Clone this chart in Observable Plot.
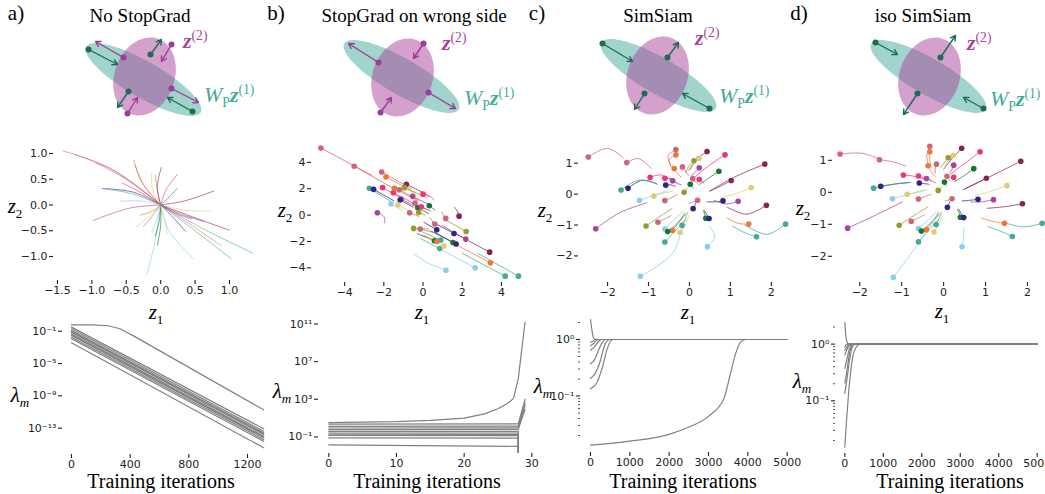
<!DOCTYPE html>
<html><head><meta charset="utf-8">
<script src="https://cdn.jsdelivr.net/npm/d3@7"></script>
<script src="https://cdn.jsdelivr.net/npm/@observablehq/plot@0.6"></script>
<style>
body{margin:0;background:#fff;}
#root{position:relative;width:1045px;height:494px;overflow:hidden;background:#fff;}
.t{position:absolute;white-space:nowrap;font-family:"Liberation Serif",serif;color:#000;line-height:1;}
.t sup,.t sub{font-size:0.62em;line-height:0;}
</style></head>
<body><div id="root"></div>
<script>
// ---------- palette ----------
const palette = {rose:"#CC6677", indigo:"#332288", sand:"#DDCC77", green:"#117733", cyan:"#88CCEE",
  wine:"#882255", teal:"#44AA99", olive:"#999933", purple:"#AA4499", orange:"#EE7733", pink:"#EE3377"};

// ---------- panel titles ----------
const panelLetters = ["a)","b)","c)","d)"];
const panelTitles = ["No StopGrad","StopGrad on wrong side","SimSiam","iso SimSiam"];

// ---------- schematic diagrams (diagram units = px in top strip) ----------
// [cx, cy, rx, ry, angleDeg]
const tealEllipses = [[143,79,66,18,30],[401,76,66,18,30],[658,75,66,18,30],[928,76,66,18,30]];
const magEllipses  = [[144,76,40,30,-70],[402,77,40,30,-70],[657,75,40,30,-70],[929,76,40,30,-70]];
// arrows: [x1,y1,x2,y2,kind]
const diagArrows = [
  [88,49,117,64,"g"],[192,111,167,97,"g"],[123,57,95,41,"m"],[171,88,198,102,"m"],
  [150,54,161,39,"g"],[171,44,161,61,"m"],[128,91,117,107,"g"],[127,113,137,97,"m"],
  [378,62,348,43,"m"],[423,43,413,58,"m"],[428,92,455,108,"m"],[380,112,391,97,"m"],
  [602,43,632,61,"g"],[667,57,678,42,"g"],[644,93,634,109,"g"],[709,108,682,93,"g"],
  [875,42,897,54,"g"],[940,57,955,35,"g"],[917,93,903,114,"g"],[983,108,963,97,"g"]
];
const arrowColors = {g:"#1d6c56", m:"#9c3b99"};

// ---------- panel a middle: trajectories [color, x0,y0, xmid,ymid] -> origin ----------
const aOrigin = [0,0];
const aTraj = [
 ["rose",-1.42,1.05,-0.75,0.72],["rose",-1.25,0.98,-0.66,0.66],["rose",-0.95,0.82,-0.5,0.5],
 ["pink",-0.56,0.43,-0.3,0.25],["purple",-0.98,-0.30,-0.45,-0.06],["indigo",-0.85,0.32,-0.4,0.25],
 ["teal",-0.80,0.31,-0.42,0.22],["cyan",-0.59,0.07,-0.3,0.08],["sand",-0.37,-0.44,-0.15,-0.2],
 ["rose",-0.25,-0.42,-0.1,-0.18],["orange",-0.37,0.77,-0.25,0.4],["rose",-0.39,0.87,-0.28,0.45],
 ["sand",-0.13,0.61,-0.12,0.3],["olive",-0.08,0.58,-0.05,0.3],["wine",0.01,0.73,-0.05,0.35],
 ["pink",0.24,0.59,0.08,0.3],["green",0.24,0.32,0.12,0.15],["wine",0.77,0.27,0.35,0.08],
 ["sand",0.73,-0.12,0.35,-0.1],["purple",0.63,-0.32,0.3,-0.18],["wine",1.0,-0.49,0.5,-0.25],
 ["indigo",0.36,-0.51,0.18,-0.24],["orange",0.88,-0.79,0.4,-0.35],["teal",1.33,-0.93,0.6,-0.45],
 ["teal",1.03,-1.05,0.45,-0.45],["cyan",0.48,-1.05,0.12,-0.5],["cyan",-0.2,-1.35,-0.08,-0.7],
 ["green",-0.05,-0.79,0.0,-0.4],["green",-0.08,-0.61,-0.02,-0.3],["cyan",-0.13,-0.53,-0.05,-0.25],
 ["sand",0.1,-0.56,0.05,-0.28],["olive",-0.3,-0.2,-0.12,-0.12],["purple",0.45,-0.27,0.2,-0.15]
];

// ---------- panel b middle: dots [color,x,y] and line ends [xe,ye] (or [xm,ym,xe,ye]) ----------
const bDots = [
 ["rose",-5.21,5.09],["rose",-3.51,3.70],["rose",-2.11,3.27],["orange",-1.89,2.89],["wine",-0.85,2.33],
 ["sand",-0.94,2.05],["pink",-2.06,2.08],["teal",-2.74,2.03],["indigo",-2.52,1.95],["pink",-1.51,1.70],
 ["orange",-1.46,2.03],["rose",-1.21,1.92],["pink",0.0,1.59],["purple",-0.53,1.42],["purple",-1.12,1.22],
 ["indigo",-1.17,1.14],["cyan",-1.63,0.86],["sand",-1.28,0.78],["rose",-0.41,0.91],["green",-0.27,0.56],
 ["pink",-0.09,0.63],["green",0.32,0.71],["olive",-0.22,0.20],["rose",-0.68,0.18],["purple",-2.33,0.18],
 ["wine",1.84,-0.08],["rose",0.60,-0.68],["rose",1.16,-0.25],["olive",-0.48,-1.01],["rose",-0.14,-1.06],
 ["indigo",0.70,-1.11],["indigo",1.58,-1.39],["olive",2.20,-1.24],["purple",2.18,-1.82],["teal",0.90,-1.90],
 ["green",0.58,-1.95],["orange",0.70,-2.00],["green",1.53,-2.08],["indigo",1.69,-2.20],["teal",0.85,-2.53],
 ["sand",1.07,-2.35],["wine",3.40,-2.81],["orange",3.44,-3.62],["cyan",1.17,-4.18],["cyan",2.66,-4.00],
 ["teal",4.19,-4.63],["teal",4.87,-4.63],["olive",-0.95,2.1]
];
const bPaths = [
 [-2.6,3.0],[-1.6,2.1],[-0.6,2.0],[-0.4,1.7],[0.0,1.7,0.3,1.4],
 [0.0,1.2],[-1.0,1.2],[-1.6,1.0],[-1.5,1.1],[-0.5,0.9],
 [-0.3,1.1],[-0.2,1.1],[0.4,1.4,0.55,1.15],[0.3,0.8],[-0.3,0.6],
 [-0.5,0.6],[-1.1,0.4],[-0.6,0.2],[0.2,0.4],[0.3,0.1],
 [0.4,0.3],[0.6,0.4],[0.1,0.0],[-0.2,-0.1],[-2.0,-0.1,-1.95,-0.6],
 [1.75,0.3,1.6,0.6],[0.35,-0.2],[0.95,0.25],[0.3,-1.05],[0.5,-1.3],
 [0.05,-0.55],[0.5,-0.55],[1.2,-0.4],[1.0,-0.8],[0.0,-1.3],
 [-0.3,-1.4],[0.0,-1.5],[0.4,-1.2],[0.6,-1.3],[-0.1,-1.8],
 [0.2,-1.7],[1.5,-1.3],[1.5,-2.1],[0.2,-3.6,-0.5,-2.9],[0.9,-2.6],
 [2.0,-2.9],[2.8,-2.9],[0.2,1.3]
];

// ---------- panels c & d middle: shared dots, separate paths [xm,ym,xe,ye] ----------
const cdDots = [
 ["rose",-2.47,1.20],["rose",-1.53,1.02],["rose",-0.33,1.44],["orange",-0.33,1.27],["wine",0.43,1.38],
 ["sand",0.23,1.16],["olive",0.11,1.08],["pink",0.87,1.27],["wine",1.84,0.97],["green",0.72,0.74],
 ["rose",-0.17,0.88],["orange",-0.37,0.83],["purple",0.24,0.85],["rose",0.08,0.50],["pink",0.24,0.47],
 ["green",0.02,0.32],["wine",1.02,0.44],["pink",-0.96,0.54],["pink",-0.60,0.51],["purple",-0.41,0.43],
 ["indigo",-0.58,0.29],["indigo",-1.50,0.19],["teal",-1.67,0.13],["cyan",-1.22,-0.20],["sand",-0.87,-0.06],
 ["olive",-0.13,0.06],["rose",-0.60,-0.21],["rose",0.20,-0.20],["sand",1.51,0.21],["indigo",0.82,-0.22],
 ["purple",1.19,-0.23],["wine",1.88,-0.36],["indigo",0.09,-0.47],["purple",-2.29,-1.12],["olive",-1.06,-1.03],
 ["rose",-0.77,-0.91],["cyan",-0.60,-1.13],["orange",-0.41,-1.17],["green",-0.53,-1.21],["teal",-0.18,-1.01],
 ["sand",-0.23,-1.24],["teal",-0.60,-1.55],["green",0.40,-0.78],["indigo",0.48,-0.79],["orange",1.45,-0.97],
 ["teal",1.64,-1.38],["teal",2.35,-0.97],["cyan",0.44,-1.70],["cyan",-1.20,-2.66]
];
const cPaths = [
 [-2.0,1.48,-1.62,1.18],[-1.25,1.15,-0.93,0.83],[-0.52,1.25,-0.45,0.92],[-0.5,1.1,-0.4,0.78],[0.2,1.15,0.0,0.78],
 [0.05,0.95,-0.08,0.68],[-0.02,0.9,-0.1,0.7],[0.45,0.9,0.05,0.45],[1.1,0.55,0.5,0.1],[0.45,0.5,0.23,0.3],
 [-0.1,0.75,-0.02,0.6],[-0.3,0.68,-0.2,0.55],[0.15,0.72,0.05,0.6],[0.12,0.42,0.2,0.35],[0.3,0.42,0.35,0.35],
 [0.05,0.25,0.1,0.2],[0.75,0.25,0.5,0.1],[-0.7,0.62,-0.4,0.4],[-0.45,0.5,-0.3,0.35],[-0.3,0.35,-0.2,0.3],
 [-0.45,0.3,-0.35,0.25],[-1.15,0.45,-0.78,0.32],[-1.25,0.45,-0.85,0.36],[-0.9,-0.05,-0.55,0.1],[-0.65,0.02,-0.4,0.1],
 [-0.1,0.12,-0.05,0.2],[-0.45,-0.12,-0.3,-0.02],[0.1,-0.25,0.0,-0.3],[1.1,0.0,0.76,-0.12],[0.62,-0.25,0.43,-0.25],
 [0.9,-0.32,0.6,-0.2],[1.4,-0.65,0.92,-0.42],[0.13,-0.38,0.15,-0.28],[-1.7,-0.6,-1.04,-0.28],[-0.75,-0.75,-0.42,-0.46],
 [-0.6,-0.8,-0.45,-0.7],[-0.4,-0.85,-0.15,-0.55],[-0.25,-0.9,-0.12,-0.6],[-0.3,-0.95,-0.1,-0.65],[-0.1,-0.8,-0.05,-0.6],
 [-0.1,-1.0,-0.02,-0.7],[-0.35,-1.2,-0.1,-0.85],[0.37,-0.65,0.35,-0.55],[0.42,-0.65,0.35,-0.52],[1.2,-0.95,0.92,-0.78],
 [1.35,-1.25,1.05,-1.03],[1.9,-1.3,1.35,-1.0],[0.62,-1.4,0.5,-1.05],[-0.4,-1.9,-0.18,-1.0]
];
const dPaths = [
 [-1.95,1.22,-1.55,1.05],[-1.2,0.95,-0.9,0.82],[-0.4,1.15,-0.38,0.92],[-0.33,1.0,-0.3,0.78],[0.2,1.05,0.0,0.72],
 [0.1,0.95,0.0,0.72],[0.0,0.9,-0.08,0.75],[0.5,0.9,0.17,0.57],[1.15,0.52,0.46,0.08],[0.5,0.53,0.26,0.33],
 [-0.2,0.75,-0.2,0.6],[-0.3,0.65,-0.2,0.5],[0.2,0.72,0.15,0.6],[0.12,0.42,0.16,0.35],[0.28,0.4,0.3,0.35],
 [0.04,0.25,0.06,0.2],[0.75,0.26,0.5,0.1],[-0.7,0.5,-0.45,0.4],[-0.45,0.45,-0.3,0.38],[-0.3,0.36,-0.2,0.3],
 [-0.45,0.27,-0.35,0.25],[-1.1,0.27,-0.79,0.31],[-1.2,0.25,-0.85,0.3],[-0.8,-0.05,-0.46,0.08],[-0.6,0.0,-0.4,0.08],
 [-0.08,0.1,-0.04,0.15],[-0.45,-0.14,-0.3,-0.06],[0.12,-0.24,0.04,-0.27],[1.1,0.02,0.75,-0.11],[0.62,-0.25,0.44,-0.27],
 [0.9,-0.3,0.64,-0.3],[1.45,-0.45,1.04,-0.5],[0.12,-0.38,0.15,-0.3],[-1.6,-0.7,-0.98,-0.3],[-0.7,-0.72,-0.37,-0.45],
 [-0.6,-0.8,-0.45,-0.7],[-0.36,-0.85,-0.15,-0.58],[-0.25,-0.9,-0.12,-0.62],[-0.3,-0.95,-0.1,-0.68],[-0.1,-0.8,-0.05,-0.62],
 [-0.12,-1.0,-0.03,-0.75],[-0.35,-1.18,-0.12,-0.85],[0.37,-0.65,0.33,-0.53],[0.42,-0.66,0.36,-0.53],[1.15,-0.9,0.9,-0.81],
 [1.33,-1.2,1.05,-1.07],[1.9,-1.08,1.45,-0.95],[0.48,-1.4,0.48,-1.1],[-0.6,-1.6,-0.12,-0.62]
];

// ---------- bottom panels: eigenvalue curves, points [iteration, log10(lambda)] ----------
const aLam = [
 [[0,-0.21],[150,-0.23],[250,-0.33],[330,-0.7],[420,-1.55],[1310,-10.73]],
 [[0,-0.50],[1310,-13.08]],[[0,-0.70],[1310,-13.38]],[[0,-0.91],[1310,-13.57]],
 [[0,-1.02],[1310,-13.68]],[[0,-1.12],[1310,-13.78]],[[0,-1.32],[1310,-13.99]],
 [[0,-1.43],[1310,-14.09]],[[0,-1.53],[1310,-14.19]],[[0,-1.74],[1310,-14.40]],
 [[0,-1.94],[1310,-14.61]],[[0,-2.44],[1310,-15.43]]
];
const bLam = [
 [[0,0.52],[10,0.62],[15,0.75],[20,1.0],[23,1.45],[25,2.0],[26.5,2.6],[27.3,3.1],[28,5.2],[29,11.2]],
 [[0,0.35],[28,0.38],[29,3.0]],[[0,0.13],[28,0.15],[29,2.6]],[[0,-0.05],[28,-0.03],[29,2.3]],
 [[0,-0.22],[28,-0.2],[29,1.9]],[[0,-0.40],[28,-0.4],[28,-8]],[[0,-0.58],[28,-0.58],[28,-8]],
 [[0,-0.71],[28,-0.72],[28,-8]],[[0,-0.85],[28,-0.86],[28,-8]],[[0,-1.10],[28,-1.12],[28,-8]],
 [[0,-1.85],[28,-2.0],[28,-8]]
];
const cLam = [
 [[0,0.35],[30,0.2],[60,0.07],[100,0.01],[200,0],[5000,0]],
 [[0,-0.05],[60,-0.03],[120,0],[5000,0]],
 [[0,-0.11],[80,-0.07],[160,-0.01],[220,0],[5000,0]],
 [[0,-0.19],[100,-0.13],[200,-0.04],[280,0],[5000,0]],
 [[0,-0.43],[100,-0.36],[200,-0.2],[300,-0.05],[380,0],[5000,0]],
 [[0,-0.69],[120,-0.6],[250,-0.38],[350,-0.12],[450,-0.01],[500,0],[5000,0]],
 [[0,-0.87],[150,-0.78],[300,-0.5],[420,-0.18],[520,-0.02],[600,0],[5000,0]],
 [[0,-1.87],[1000,-1.80],[2000,-1.68],[2500,-1.55],[3000,-1.36],[3390,-1.05],[3560,-0.6],[3690,-0.25],[3810,-0.05],[3940,0],[5000,0]]
];
const dLam = [
 [[0,0.38],[20,0.2],[50,0.05],[100,0.0],[5000,0]],
 [[0,-0.05],[50,0],[5000,0]],
 [[0,-0.11],[60,-0.04],[100,0],[5000,0]],
 [[0,-0.19],[60,-0.09],[120,-0.01],[150,0],[5000,0]],
 [[0,-0.43],[60,-0.25],[120,-0.08],[180,0],[5000,0]],
 [[0,-0.69],[60,-0.45],[120,-0.17],[180,-0.03],[230,0],[5000,0]],
 [[0,-0.87],[60,-0.6],[130,-0.25],[200,-0.04],[260,0],[5000,0]],
 [[0,-1.82],[50,-1.3],[100,-0.85],[150,-0.5],[200,-0.25],[300,-0.05],[400,0],[5000,0]]
];

// ---------- ticks ----------
const aMidXTicks=[-1.5,-1,-0.5,0,0.5,1], aMidYTicks=[-1,-0.5,0,0.5,1];
const bMidTicks=[-4,-2,0,2,4];
const cdMidXTicks=[-2,-1,0,1,2], cdMidYTicks=[-2,-1,0,1];
const aBotXTicks=[0,400,800,1200], aBotYExp=[-13,-9,-5,-1];
const bBotXTicks=[0,10,20,30], bBotYExp=[-1,3,7,11];
const cdBotXTicks=[0,1000,2000,3000,4000,5000], cdBotYExp=[-1,0];

// ================= rendering =================
const root = document.getElementById("root");
const sup = {"-":"⁻","0":"⁰","1":"¹","2":"²","3":"³","4":"⁴","5":"⁵","6":"⁶","7":"⁷","8":"⁸","9":"⁹"};
const powFmt = d => "10" + String(Math.round(Math.log10(d))).split("").map(c=>sup[c]).join("");
const col = c => palette[c];

function text(html, x, y, size, anchor="middle", extra="") {
  const el = document.createElement("div");
  el.className = "t";
  el.innerHTML = html;
  el.style.left = x + "px"; el.style.top = y + "px"; el.style.fontSize = size + "px";
  el.style.transform = anchor === "middle" ? "translate(-50%,-50%)" : "translate(0,-50%)";
  if (extra) el.style.cssText += extra;
  root.appendChild(el);
}

function panel(o) {
  const mL=48, mR=8, mT=6, mB=24;
  const w=o.fx1-o.fx0, h=o.fy1-o.fy0;
  const axisStyle = {tickSize:4, tickPadding:2, label:null, strokeWidth:1.1};
  const marks = [...o.marks,
    Plot.axisX({...axisStyle, ticks:o.xt, tickFormat:o.xf, line:true}),
    Plot.axisY({...axisStyle, ticks:o.yt, tickFormat:o.yf, line:true})];
  if (o.minor) marks.push(Plot.axisY({ticks:o.minor, tickSize:2, tickFormat:()=>"", label:null, strokeWidth:0.8}));
  const p = Plot.plot({
    width:w+mL+mR, height:h+mT+mB, marginLeft:mL, marginRight:mR, marginTop:mT, marginBottom:mB,
    style:{fontFamily:"DejaVu Sans", fontSize:"11px", color:"#222", background:"transparent", overflow:"visible"},
    x:{domain:o.xd},
    y:o.log ? {type:"log", domain:o.yd.map(e=>10**e)} : {domain:o.yd},
    marks
  });
  p.style.position="absolute"; p.style.left=(o.fx0-mL)+"px"; p.style.top=(o.fy0-mT)+"px";
  root.appendChild(p);
}

// --- top strip diagrams ---
const ellRows = (list, kind) => list.flatMap(([cx,cy,rx,ry,ang],i) => {
  const th = ang*Math.PI/180;
  return d3.range(0,360,4).map(t => { const a=t*Math.PI/180;
    return {id:kind+i, x:cx+rx*Math.cos(a)*Math.cos(th)-ry*Math.sin(a)*Math.sin(th),
                       y:cy+rx*Math.cos(a)*Math.sin(th)+ry*Math.sin(a)*Math.cos(th)}; });
});
const arrRows = diagArrows.map(([x1,y1,x2,y2,k]) => ({x1,y1,x2,y2,c:arrowColors[k]}));
const diag = Plot.plot({
  width:1045, height:130, margin:0,
  x:{domain:[0,1045], range:[0,1045], axis:null}, y:{domain:[0,130], range:[0,130], axis:null},
  style:{background:"transparent"},
  marks:[
    Plot.line(ellRows(tealEllipses,"t"), {x:"x", y:"y", z:"id", fill:"#44AA99", fillOpacity:0.5, stroke:"none"}),
    Plot.line(ellRows(magEllipses,"m"), {x:"x", y:"y", z:"id", fill:"#AA4499", fillOpacity:0.5, stroke:"none"}),
    Plot.arrow(arrRows, {x1:"x1", y1:"y1", x2:"x2", y2:"y2", stroke:"c", strokeWidth:1.4, headLength:6}),
    Plot.dot(arrRows, {x:"x1", y:"y1", r:3, fill:"c", stroke:"none"})
  ]
});
diag.style.position="absolute"; diag.style.left="0px"; diag.style.top="0px";
root.appendChild(diag);

// --- middle panels ---
const aRows = aTraj.flatMap(([c,x0,y0,xm,ym],i)=>[{id:i,c,x:x0,y:y0},{id:i,c,x:xm,y:ym},{id:i,c,x:aOrigin[0],y:aOrigin[1]}]);
panel({fx0:53, fx1:262, fy0:145, fy1:280, xd:[-1.558,1.48], yd:[-1.466,1.155],
  xt:aMidXTicks, yt:aMidYTicks, xf:d3.format(".1f"), yf:d3.format(".1f"),
  marks:[Plot.line(aRows,{x:"x",y:"y",z:"id",stroke:d=>col(d.c),strokeOpacity:0.6,strokeWidth:1,curve:"catmull-rom"})]});

function pathRows(dots, paths) {
  return dots.flatMap(([c,x,y],i) => {
    const p = paths[i], rows = [{id:i,c,x,y}];
    for (let k=0;k<p.length;k+=2) rows.push({id:i,c,x:p[k],y:p[k+1]});
    return rows;
  });
}
const dotMark = dots => Plot.dot(dots,{x:d=>d[1],y:d=>d[2],r:2.8,fill:d=>col(d[0]),stroke:"none"});
panel({fx0:311, fx1:527, fy0:141, fy1:282, xd:[-5.69,5.33], yd:[-5.11,5.58],
  xt:bMidTicks, yt:bMidTicks, xf:d3.format("d"), yf:d3.format("d"),
  marks:[Plot.line(pathRows(bDots,bPaths),{x:"x",y:"y",z:"id",stroke:d=>col(d.c),strokeOpacity:0.75,strokeWidth:1,curve:"catmull-rom"}), dotMark(bDots)]});
panel({fx0:578, fx1:797, fy0:142, fy1:282, xd:[-2.71,2.64], yd:[-2.86,1.67],
  xt:cdMidXTicks, yt:cdMidYTicks, xf:d3.format("d"), yf:d3.format("d"),
  marks:[Plot.line(pathRows(cdDots,cPaths),{x:"x",y:"y",z:"id",stroke:d=>col(d.c),strokeOpacity:0.75,strokeWidth:1,curve:"catmull-rom"}), dotMark(cdDots)]});
panel({fx0:832, fx1:1045, fy0:140, fy1:282, xd:[-2.65,2.43], yd:[-2.82,1.62],
  xt:cdMidXTicks, yt:cdMidYTicks, xf:d3.format("d"), yf:d3.format("d"),
  marks:[Plot.line(pathRows(cdDots,dPaths),{x:"x",y:"y",z:"id",stroke:d=>col(d.c),strokeOpacity:0.75,strokeWidth:1,curve:"catmull-rom"}), dotMark(cdDots)]});

// --- bottom panels ---
const lamRows = list => list.flatMap((pts,i)=>pts.map(([t,e])=>({id:i,t,v:10**e})));
const grayLine = (list, curve) => Plot.line(lamRows(list),{x:"t",y:"v",z:"id",stroke:"#808080",strokeWidth:1.2,curve,clip:true});
const minorTicks = d3.range(-3,1).flatMap(e=>d3.range(2,10).map(m=>m*10**e));
panel({fx0:62, fx1:268, fy0:318, fy1:454, xd:[-61,1343], yd:[-16.26,0.57], log:true,
  xt:aBotXTicks, yt:aBotYExp.map(e=>10**e), xf:d3.format("d"), yf:powFmt,
  marks:[grayLine(aLam,"linear")]});
panel({fx0:318, fx1:532, fy0:315, fy1:453, xd:[-1.52,30.1], yd:[-2.76,11.9], log:true,
  xt:bBotXTicks, yt:bBotYExp.map(e=>10**e), xf:d3.format("d"), yf:powFmt,
  marks:[grayLine(bLam,"linear")]});
panel({fx0:580, fx1:793, fy0:313, fy1:452, xd:[-254,5161], yd:[-2.0,0.46], log:true,
  xt:cdBotXTicks, yt:cdBotYExp.map(e=>10**e), xf:d3.format("d"), yf:powFmt,
  minor:minorTicks.filter(v=>v>=10**-2 && v<=10**0.46),
  marks:[grayLine(cLam,"monotone-x")]});
panel({fx0:835, fx1:1043, fy0:317, fy1:453, xd:[-242,5164], yd:[-1.93,0.47], log:true,
  xt:cdBotXTicks, yt:cdBotYExp.map(e=>10**e), xf:d3.format("d"), yf:powFmt,
  minor:minorTicks.filter(v=>v>=10**-1.93 && v<=10**0.47),
  marks:[grayLine(dLam,"monotone-x")]});

// --- text ---
const letterX=[16,276,537,799], titleX=[140,414,658,923];
panelLetters.forEach((l,i)=>text(l, letterX[i], 13, 21));
panelTitles.forEach((l,i)=>text(l, titleX[i], 15, 19));
const z2 = '<i>z</i><sub>2</sub>', z1 = '<i>z</i><sub>1</sub>', lam = '<i>λ</i><sub><i>m</i></sub>';
[[15,206],[285,210],[545,210],[803,208]].forEach(([x,y])=>text(z2,x,y,21));
[[156,312],[422,312],[688,312],[942,311]].forEach(([x,y])=>text(z1,x,y,21));
[[20,395],[282,391],[543,386],[802,381]].forEach(([x,y])=>text(lam,x,y,21));
[161,427,683,950].forEach(x=>text("Training iterations",x,481,20));
const zlab = '<b><i>z</i></b><sup>(2)</sup>';
const wlab = '<i>W</i><sub>P</sub><b><i>z</i></b><sup>(1)</sup>';
[[183,41],[442,43],[695,38],[967,43]].forEach(([x,y])=>text(zlab,x,y,22,"start","color:#AA4499"));
[[204,95],[464,98],[719,96],[990,99]].forEach(([x,y])=>text(wlab,x,y,22,"start","color:#44AA99"));
</script></body></html>
